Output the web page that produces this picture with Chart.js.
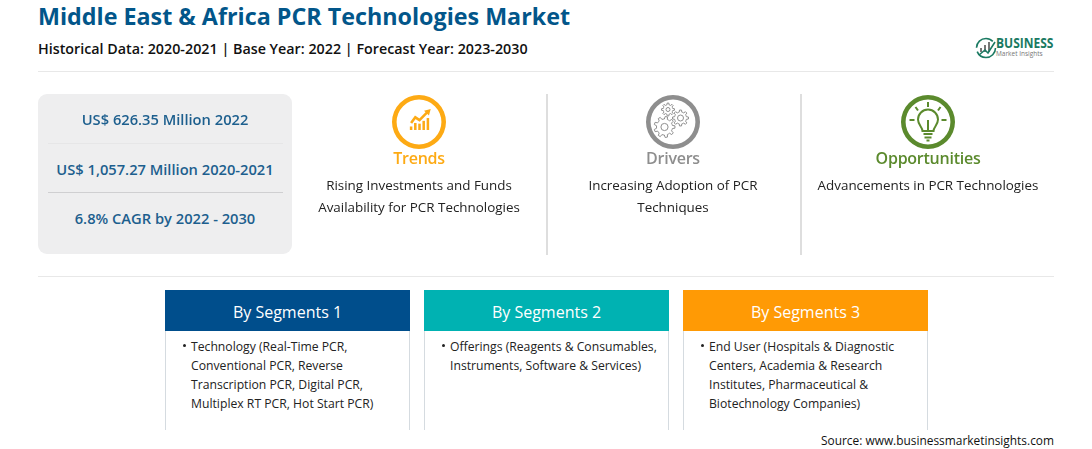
<!DOCTYPE html>
<html>
<head>
<meta charset="utf-8">
<title>Middle East & Africa PCR Technologies Market</title>
<script src="https://cdn.jsdelivr.net/npm/chart.js@4/dist/chart.umd.min.js"></script>
<style>
	html, body { margin: 0; padding: 0; background: #fff; }
	body { width: 1092px; height: 449px; overflow: hidden; position: relative; font-family: "Open Sans", "Noto Sans", sans-serif; color: #222; }
	.abs { position: absolute; white-space: nowrap; }
	.center { transform: translateX(-50%); text-align: center; }
	.rule { position: absolute; background: #e8e8e8; }
	#title { left: 38px; top: 0; font-size: 23.3px; line-height: 33px; font-weight: 700; color: #02568a; }
	#subtitle { left: 38px; top: 39px; font-size: 14.3px; line-height: 20px; font-weight: 600; color: #111; }
	#panel { left: 38px; top: 94px; width: 254px; height: 160px; background: #eeeeef; border-radius: 9px; }
	.stat { font-size: 14.7px; line-height: 20px; font-weight: 600; color: #1d5f8e; }
	.ring { position: absolute; width: 56px; height: 56px; }
	.pillar { font-size: 16px; line-height: 22px; font-weight: 600; letter-spacing: -0.25px; }
	.pillar-text { font-size: 13.4px; line-height: 21.5px; color: #222; }
	.card { position: absolute; top: 290px; width: 245px; height: 140px; box-sizing: border-box; border-left: 1px solid #d5dbe0; border-right: 1px solid #d5dbe0; }
	.card-head { margin: 0 -1px; height: 41px; line-height: 44px; color: #fff; font-size: 16px; text-align: center; }
	.card-body { position: absolute; left: 25px; top: 47px; font-size: 12.2px; line-height: 19px; color: #222; white-space: nowrap; }
	.card-body:before { content: ""; position: absolute; left: -8px; top: 7px; width: 3px; height: 3px; border-radius: 50%; background: #222; }
	#source { right: 38px; top: 431px; font-size: 11.9px; line-height: 18px; color: #111; }
	#logo { left: 975px; top: 36px; }
	#logo-name { left: 996px; top: 36px; font-size: 13.5px; line-height: 14px; font-weight: 700; color: #1a7a62; transform-origin: left top; transform: scaleX(0.89); }
	#logo-sub { left: 996px; top: 50px; font-size: 6.5px; line-height: 8px; color: #777; }
</style>
</head>
<body>
<div class="abs" id="title"></div>
<div class="abs" id="subtitle"></div>
<svg class="abs" id="logo" width="22" height="24" viewBox="0 0 22 24">
	<circle cx="11" cy="12" r="9.5" fill="none" stroke="#1a7a62" stroke-width="1.6" stroke-dasharray="26 4 22 8"/>
	<path d="M5 16h2v-4h-2zM9 16h2v-7h-2zM13 16h2v-10h-2z" fill="#777"/>
	<path d="M4 19l6-5 3 3 7-11" fill="none" stroke="#1a7a62" stroke-width="1.6"/>
</svg>
<div class="abs" id="logo-name"></div>
<div class="abs" id="logo-sub"></div>
<div class="rule" style="left:38px;top:71px;width:1016px;height:1px"></div>

<div class="abs" id="panel"></div>
<div class="rule" style="left:48px;top:143px;width:235px;height:1px;background:#e6e6e7"></div>
<div class="rule" style="left:48px;top:192px;width:235px;height:1px;background:#cfcfd1"></div>

<div class="rule" style="left:546px;top:94px;width:2px;height:161px;background:#dedede"></div>
<div class="rule" style="left:800px;top:94px;width:2px;height:161px;background:#dedede"></div>
<div class="rule" style="left:38px;top:276px;width:1016px;height:1px"></div>

<div class="ring" style="left:391px;top:94px"><canvas id="ring-0"></canvas></div>
<div class="ring" style="left:645px;top:94px"><canvas id="ring-1"></canvas></div>
<div class="ring" style="left:900px;top:94px"><canvas id="ring-2"></canvas></div>
<div class="abs" style="left:405px;top:107px;width:29px;height:27px"><canvas id="trend-icon"></canvas></div>
<svg class="abs" id="gears" style="left:645px;top:94px" width="56" height="56" viewBox="0 0 56 56" fill="none" stroke="#8f8f8f" stroke-width="1"></svg>
<svg class="abs" style="left:900px;top:94px" width="56" height="56" viewBox="0 0 56 56" fill="none" stroke="#5b8a2d" stroke-width="2">
	<path d="M22.500 37c0-4-4.500-6-4.500-11.500a10 10 0 0 1 20 0c0 5.500-4.500 7.500-4.500 11.500z"/>
	<path d="M28 36v-10M23.500 40h9M24.500 43.500h7M26.500 46.500h3"/>
	<path d="M28 8v5M15.500 13l2.500 3.500M40.500 13l-2.500 3.500M9.500 26h5M41.500 26h5"/>
</svg>

<div class="abs" id="source"></div>

<script>
'use strict';

const chartTitle = 'Middle East & Africa PCR Technologies Market';
const periodLine = 'Historical Data: 2020-2021 | Base Year: 2022 | Forecast Year: 2023-2030';
const logoName = 'BUSINESS';
const logoSub = 'Market Insights';
const sourceLine = 'Source: www.businessmarketinsights.com';

const statLabels = ['US$ 626.35 Million 2022', 'US$ 1,057.27 Million 2020-2021', '6.8% CAGR by 2022 - 2030'];

const pillarNames = ['Trends', 'Drivers', 'Opportunities'];
const pillarLines = [
	['Rising Investments and Funds', 'Availability for PCR Technologies'],
	['Increasing Adoption of PCR', 'Techniques'],
	['Advancements in PCR Technologies']
];
const pillarColors = ['#fdaa14', '#8e8e8e', '#5b8a2d'];
const ringValues = [100];

const segmentNames = ['By Segments 1', 'By Segments 2', 'By Segments 3'];
const segmentLines = [
	['Technology (Real-Time PCR,', 'Conventional PCR, Reverse', 'Transcription PCR, Digital PCR,', 'Multiplex RT PCR, Hot Start PCR)'],
	['Offerings (Reagents & Consumables,', 'Instruments, Software & Services)'],
	['End User (Hospitals & Diagnostic', 'Centers, Academia & Research', 'Institutes, Pharmaceutical &', 'Biotechnology Companies)']
];
const segmentColors = ['#004e8c', '#00b2b2', '#ff9a05'];

// small growth glyph inside the Trends ring
const iconSlots = ['a', 'b', 'c', 'd', 'e'];
const iconBars = [5, 10, 9, 13, 17];
const iconLine = [10, 18, 14, 20, 26];

function addText(className, text, left, top) {
	let div = document.createElement('div');
	div.className = 'abs center ' + className;
	div.textContent = text;
	div.style.left = left + 'px';
	div.style.top = top + 'px';
	document.body.appendChild(div);
	return div;
}

function fillStaticText() {
	document.getElementById('title').textContent = chartTitle;
	document.getElementById('subtitle').textContent = periodLine;
	document.getElementById('logo-name').textContent = logoName;
	document.getElementById('logo-sub').textContent = logoSub;
	document.getElementById('source').textContent = sourceLine;

	const statTops = [109, 159, 208];
	statLabels.forEach((label, i) => addText('stat', label, 165, statTops[i]));

	const pillarCenters = [419, 673, 928];
	pillarNames.forEach((name, i) => {
		addText('pillar', name, pillarCenters[i], 147).style.color = pillarColors[i];
		pillarLines[i].forEach((line, j) => addText('pillar-text', line, pillarCenters[i], 175 + j * 21.5));
	});

	const cardLefts = [165, 424, 683];
	segmentNames.forEach((name, i) => {
		let card = document.createElement('div');
		card.className = 'card';
		card.style.left = cardLefts[i] + 'px';
		let head = document.createElement('div');
		head.className = 'card-head';
		head.style.background = segmentColors[i];
		head.textContent = name;
		let body = document.createElement('div');
		body.className = 'card-body';
		body.innerHTML = segmentLines[i].map(l => l.replace(/&/g, '&amp;')).join('<br>');
		card.appendChild(head);
		card.appendChild(body);
		document.body.appendChild(card);
	});
}

function ringChart(canvasId, color) {
	new Chart(document.getElementById(canvasId), {
		type: 'doughnut',
		data: {
			datasets: [{
				data: ringValues,
				backgroundColor: [color],
				borderWidth: 0
			}]
		},
		options: {
			animation: false,
			responsive: true,
			maintainAspectRatio: false,
			cutout: '83%',
			layout: { padding: 1 },
			plugins: { legend: { display: false }, tooltip: { enabled: false } }
		}
	});
}

function trendChart() {
	new Chart(document.getElementById('trend-icon'), {
		data: {
			labels: iconSlots,
			datasets: [{
				type: 'line',
				data: iconLine,
				borderColor: pillarColors[0],
				borderWidth: 2.6,
				tension: 0,
				clip: false,
				pointRadius: [0, 0, 0, 0, 4],
				pointStyle: 'triangle',
				pointRotation: 45,
				pointBackgroundColor: pillarColors[0],
				pointBorderWidth: 0
			}, {
				type: 'bar',
				data: iconBars,
				backgroundColor: pillarColors[0],
				barPercentage: 0.6,
				categoryPercentage: 1
			}]
		},
		options: {
			animation: false,
			responsive: true,
			maintainAspectRatio: false,
			layout: { padding: 0 },
			plugins: { legend: { display: false }, tooltip: { enabled: false } },
			scales: {
				x: { display: false },
				y: { display: false, min: 0, max: 27 }
			}
		}
	});
}

// outlined cog wheel for the Drivers icon
function gearPath(cx, cy, outer, inner, teeth) {
	let d = '';
	const step = Math.PI * 2 / teeth;
	for (let i = 0; i < teeth; i++) {
		const a = i * step;
		const corners = [[inner, a - step * 0.5], [inner, a - step * 0.28], [outer, a - step * 0.16], [outer, a + step * 0.16], [inner, a + step * 0.28]];
		for (const c of corners) {
			d += (d ? 'L' : 'M') + (cx + c[0] * Math.cos(c[1])).toFixed(2) + ' ' + (cy + c[0] * Math.sin(c[1])).toFixed(2);
		}
	}
	return d + 'Z';
}

function drawGears() {
	const gears = [[19.5, 33, 10.5, 8, 9, 3.6], [35.5, 24, 8, 6, 8, 3], [23, 15.5, 6.5, 4.8, 8, 2]];
	let svg = document.getElementById('gears');
	for (const g of gears) {
		svg.innerHTML += '<path d="' + gearPath(g[0], g[1], g[2], g[3], g[4]) + '"/><circle cx="' + g[0] + '" cy="' + g[1] + '" r="' + g[5] + '"/>';
	}
}

fillStaticText();
pillarColors.forEach((color, i) => ringChart('ring-' + i, color));
trendChart();
drawGears();
</script>
</body>
</html>
